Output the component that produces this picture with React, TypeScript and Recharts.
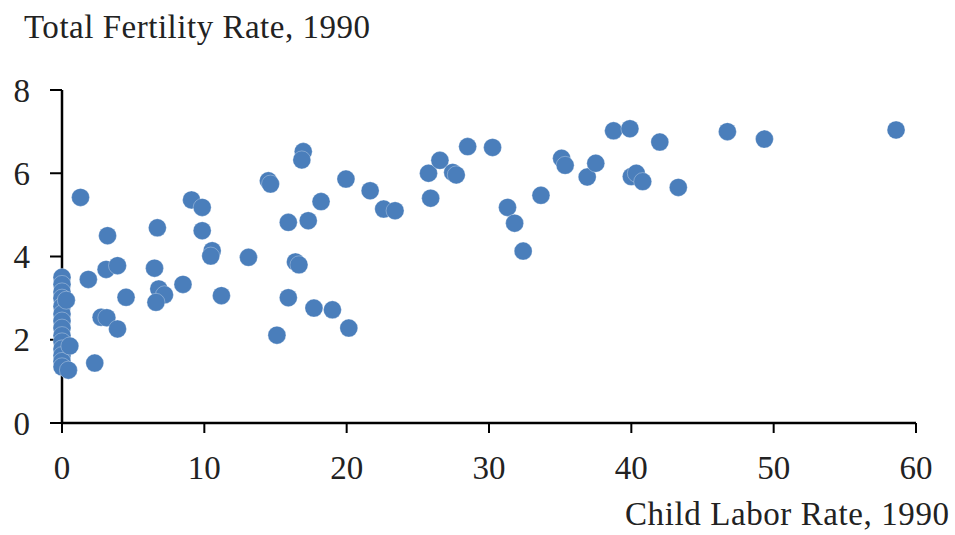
import { ScatterChart, Scatter, XAxis, YAxis } from 'recharts'

// Child labor rate (x) and total fertility rate (y), 1990, one entry per country
const childLabor = [
  0, 0, 0, 0, 0, 0, 0, 0, 0, 0, 0, 0, 0, 0,
  0.3, 0.55, 0.45,
  1.3, 3.2, 1.85, 3.1, 3.9, 4.5, 2.75, 3.15, 3.9, 2.3,
  6.7, 6.5, 6.8, 7.2, 6.6, 8.5, 9.1, 9.85, 9.85, 10.55, 10.45, 11.2, 13.1,
  14.5, 14.65, 15.1, 15.9, 15.9, 16.4, 16.65, 16.95, 16.85, 17.3, 18.2, 17.7, 19.0,
  20.15, 19.95, 21.65, 22.6, 23.4, 25.75, 25.9, 26.55, 27.45, 27.7, 28.5, 30.25,
  31.3, 31.8, 32.4, 33.65, 35.1, 35.35, 36.9, 37.5, 38.75, 39.9, 42.0, 40.0, 40.35,
  40.8, 43.3, 46.75, 49.35, 58.6,
]
const fertility = [
  3.5, 3.33, 3.15, 3.0, 2.8, 2.62, 2.45, 2.28, 2.1, 1.95, 1.78, 1.62, 1.48, 1.35,
  2.95, 1.85, 1.27,
  5.42, 4.5, 3.45, 3.69, 3.78, 3.02, 2.54, 2.53, 2.26, 1.44,
  4.69, 3.72, 3.22, 3.08, 2.9, 3.33, 5.36, 5.18, 4.62, 4.14, 4.01, 3.06, 3.98,
  5.82, 5.74, 2.11, 4.82, 3.01, 3.87, 3.8, 6.52, 6.32, 4.86, 5.32, 2.76, 2.72,
  2.28, 5.86, 5.58, 5.14, 5.1, 6.0, 5.4, 6.31, 6.02, 5.96, 6.64, 6.62,
  5.18, 4.8, 4.13, 5.47, 6.36, 6.19, 5.91, 6.24, 7.02, 7.07, 6.75, 5.92, 6.0,
  5.8, 5.66, 7.0, 6.82, 7.04,
]
const xTicks = [0, 10, 20, 30, 40, 50, 60]
const yTicks = [0, 2, 4, 6, 8]

const data = childLabor.map((x, i) => ({ x, y: fertility[i] }))

const FONT = '"Liberation Serif", "Times New Roman", serif'
const DOT = '#4a7ebb'

const Dot = (props: any) => (
  <circle cx={props.cx} cy={props.cy} r={9} fill={DOT} stroke="#ffffff" strokeOpacity={0.5} strokeWidth={0.6} />
)

export default function App() {
  return (
    <div style={{ position: 'relative', width: 955, height: 535, background: '#fff' }}>
      <style>{'body{margin:0}'}</style>
      <svg width={955} height={535} style={{ position: 'absolute', left: 0, top: 0, pointerEvents: 'none' }}>
        <text x={24} y={38} fontFamily={FONT} fontSize={33} fill="#222" textLength={346}>
          Total Fertility Rate, 1990
        </text>
        <text x={625} y={525} fontFamily={FONT} fontSize={33} fill="#222" textLength={324}>
          Child Labor Rate, 1990
        </text>
      </svg>
      <ScatterChart width={955} height={535} margin={{ top: 90, right: 39, bottom: 0, left: 0 }}>
        <XAxis
          type="number"
          dataKey="x"
          domain={[0, 60]}
          ticks={xTicks}
          interval={0}
          height={112}
          axisLine={{ stroke: '#000', strokeWidth: 2.5 }}
          tickLine={{ stroke: '#000', strokeWidth: 2 }}
          tickSize={10}
          tickMargin={23}
          tick={{ fill: '#222', fontSize: 33, fontFamily: FONT }}
        />
        <YAxis
          type="number"
          dataKey="y"
          domain={[0, 8]}
          ticks={yTicks}
          interval={0}
          width={62}
          axisLine={{ stroke: '#000', strokeWidth: 2.5 }}
          tickLine={{ stroke: '#000', strokeWidth: 2 }}
          tickSize={12}
          tickMargin={20}
          tick={{ fill: '#222', fontSize: 33, fontFamily: FONT }}
        />
        <Scatter data={data} shape={Dot} isAnimationActive={false} />
      </ScatterChart>
    </div>
  )
}
